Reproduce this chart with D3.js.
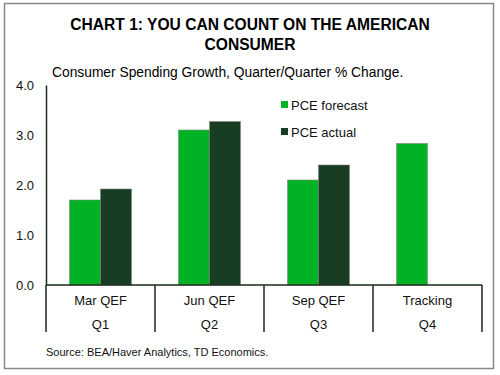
<!DOCTYPE html>
<html><head><meta charset="utf-8">
<script src="https://cdn.jsdelivr.net/npm/d3@7"></script>
<style>body{margin:0;background:#fff;} text{font-family:"Liberation Sans",Arial,sans-serif;}</style>
</head><body>
<svg id="c" width="500" height="375"></svg>
<script>
const categories = ["Mar QEF","Jun QEF","Sep QEF","Tracking"];
const quarters = ["Q1","Q2","Q3","Q4"];
const forecast = [1.7, 3.1, 2.1, 2.83];
const actual = [1.92, 3.27, 2.4, null];
const yTicks = [0,1,2,3,4];
const seriesNames = ["PCE forecast","PCE actual"];
const colors = ["#00b224","#193d22"];

const svg = d3.select("#c");
svg.append("rect").attr("x",4.5).attr("y",3.5).attr("width",489).attr("height",365)
  .attr("fill","#fff").attr("stroke","#888").attr("stroke-width",1.5);

svg.append("text").attr("x",250).attr("y",30).attr("text-anchor","middle")
  .attr("font-size",15.6).attr("font-weight","bold").text("CHART 1: YOU CAN COUNT ON THE AMERICAN");
svg.append("text").attr("x",250).attr("y",50).attr("text-anchor","middle")
  .attr("font-size",15.6).attr("font-weight","bold").text("CONSUMER");
svg.append("text").attr("x",52).attr("y",77).attr("font-size",13.8).text("Consumer Spending Growth, Quarter/Quarter % Change.");

const x = d3.scaleBand().domain(categories).range([46,482]);
const y = d3.scaleLinear().domain([0,4]).range([285,85]);
const inner = d3.scaleBand().domain([0,1]).range([0,62]);

// y axis
const ya = svg.append("g").attr("transform","translate(46,0)")
  .call(d3.axisLeft(y).tickValues(yTicks).tickFormat(d3.format(".1f")).tickSize(0).tickPadding(12));
ya.select(".domain").attr("stroke","#1a2a1a").attr("stroke-width",1.5);
ya.selectAll("text").attr("font-size",13).attr("fill","#111").style("font-family","Liberation Sans, Arial");

// bars
const groups = svg.append("g");
categories.forEach((c,i)=>{
  [forecast[i], actual[i]].forEach((v,j)=>{
    if (v==null) return;
    groups.append("rect")
      .attr("x", x(c) + (x.bandwidth()-62)/2 + inner(j))
      .attr("y", y(v)).attr("width", inner.bandwidth()).attr("height", y(0)-y(v))
      .attr("fill", colors[j]).attr("stroke","#7a8a7a").attr("stroke-width",0.6);
  });
});

// x axis
const xa = svg.append("g");
xa.append("line").attr("x1",46).attr("x2",482).attr("y1",y(0)).attr("y2",y(0)).attr("stroke","#1a2a1a").attr("stroke-width",1.5);
const bounds = categories.map(c=>x(c)).concat([x.range()[1]]);
bounds.forEach(b=>{
  xa.append("line").attr("x1",b).attr("x2",b).attr("y1",y(0)).attr("y2",332).attr("stroke","#1a2a1a").attr("stroke-width",1.5);
});
categories.forEach((c,i)=>{
  xa.append("text").attr("x",x(c)+x.bandwidth()/2).attr("y",305).attr("text-anchor","middle").attr("font-size",13).attr("fill","#111").text(c);
  xa.append("text").attr("x",x(c)+x.bandwidth()/2).attr("y",329).attr("text-anchor","middle").attr("font-size",13).attr("fill","#111").text(quarters[i]);
});

// legend
seriesNames.forEach((n,i)=>{
  const ly = 105 + i*27;
  svg.append("rect").attr("x",281).attr("y",ly-4).attr("width",7).attr("height",7).attr("fill",colors[i]);
  svg.append("text").attr("x",291).attr("y",ly+5).attr("font-size",13).attr("fill","#111").text(n);
});

svg.append("text").attr("x",46).attr("y",356).attr("font-size",11).attr("fill","#111").text("Source: BEA/Haver Analytics, TD Economics.");
</script>
</body></html>
